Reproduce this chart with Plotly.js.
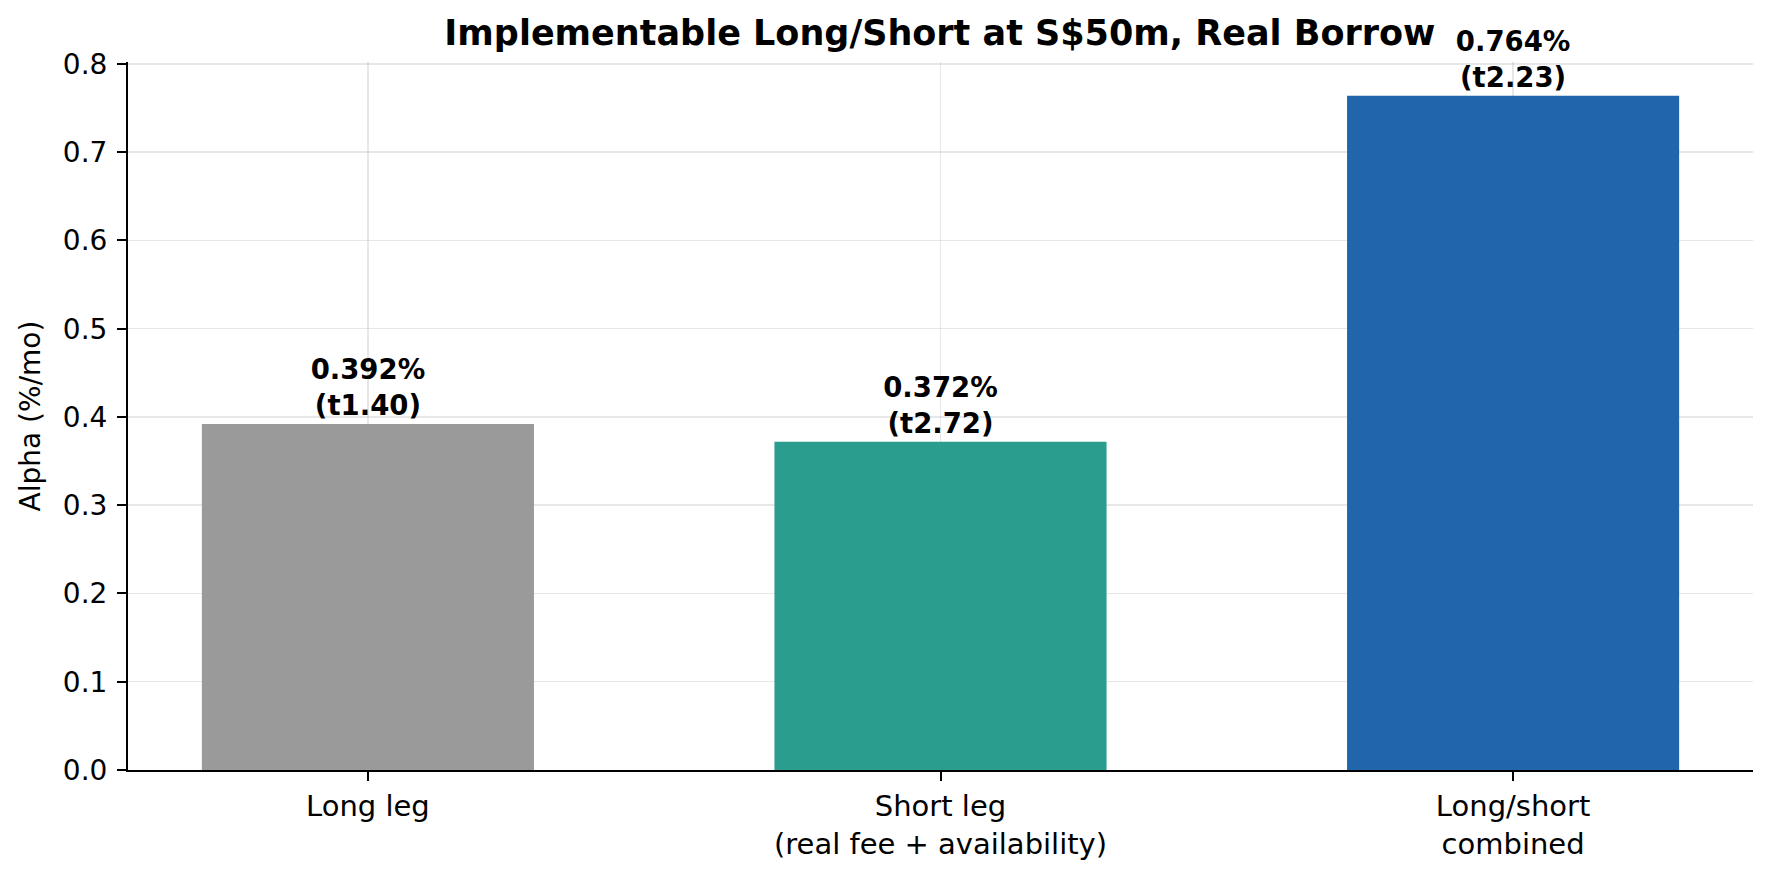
<!DOCTYPE html>
<html>
<head>
<meta charset="utf-8">
<script src="https://cdn.plot.ly/plotly-3.0.1.min.js"></script>
<style>
  html, body { margin: 0; padding: 0; background: #fff; }
  #chart { width: 1772px; height: 872px; }
</style>
</head>
<body>
<div id="chart"></div>
<script>
// values
const categories = ["Long leg", "Short leg<br>(real fee + availability)", "Long/short<br>combined"];
const alpha = [0.392, 0.372, 0.764];
const tstat = [1.40, 2.72, 2.23];
const barColors = ["#9a9a9a", "#2a9d8f", "#2166ac"];

const labels = alpha.map((a, i) => "<b>" + a.toFixed(3) + "%<br>(t" + tstat[i].toFixed(2) + ")</b>");

const FONT = "DejaVu Sans, sans-serif";

var bars = {
    x: [0, 1, 2],
    y: alpha,
    type: "bar",
    width: 0.58,
    marker: { color: barColors, line: { width: 0 } },
    text: labels,
    textposition: "outside",
    textfont: { family: FONT, size: 27.5, color: "#000" },
    cliponaxis: false,
    hoverinfo: "skip"
};

var layout = {
    width: 1772,
    height: 872,
    margin: { l: 128, r: 19, t: 62, b: 102 },
    paper_bgcolor: "#fff",
    plot_bgcolor: "#fff",
    showlegend: false,
    font: { family: FONT, size: 28, color: "#000" },
    title: {
        text: "<b>Implementable Long/Short at S$50m, Real Borrow</b>",
        font: { family: FONT, size: 35, color: "#000" },
        x: 0.5304, xanchor: "center",
        y: 0.962, yref: "container", yanchor: "middle"
    },
    xaxis: {
        range: [-0.419, 2.419],
        tickmode: "array",
        tickvals: [0, 1, 2],
        ticktext: categories,
        showgrid: true,
        gridcolor: "rgba(176,176,176,0.3)",
        gridwidth: 1.5,
        showline: true,
        linecolor: "#000",
        linewidth: 2,
        ticks: "outside",
        ticklen: 9,
        tickwidth: 2,
        tickcolor: "#000",
        zeroline: false,
        layer: "above traces",
        tickfont: { family: FONT, size: 29, color: "#000" }
    },
    yaxis: {
        range: [0, 0.8022],
        dtick: 0.1,
        tick0: 0,
        tickformat: ".1f",
        showgrid: true,
        gridcolor: "rgba(176,176,176,0.3)",
        gridwidth: 1.5,
        showline: true,
        linecolor: "#000",
        linewidth: 2,
        ticks: "outside",
        ticklen: 9,
        tickwidth: 2,
        tickcolor: "#000",
        ticklabelstandoff: 4,
        zeroline: false,
        layer: "above traces",
        tickfont: { family: FONT, size: 28, color: "#000" },
        title: {
            text: "Alpha (%/mo)",
            font: { family: FONT, size: 28, color: "#000" },
            standoff: 14
        }
    }
};

Plotly.newPlot("chart", [bars], layout, { displayModeBar: false, staticPlot: true });
</script>
</body>
</html>
